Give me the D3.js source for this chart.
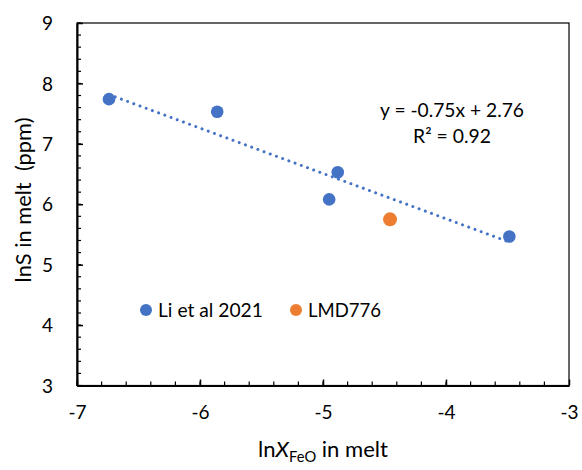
<!DOCTYPE html>
<html><head><meta charset="utf-8">
<script src="https://cdn.jsdelivr.net/npm/d3@7"></script>
<style>body{margin:0;background:#fff}svg{display:block}text{font-family:Lato,"Open Sans",sans-serif}</style>
</head><body>
<svg id="c" width="582" height="470"></svg>
<script>
const liX = [-6.74, -5.86, -4.88, -4.95, -3.485];
const liY = [7.74, 7.53, 6.53, 6.08, 5.465];
const lmdX = [-4.455];
const lmdY = [5.75];
const trendSlope = -0.75, trendIntercept = 2.76;
const xTicks = [-7, -6, -5, -4, -3];
const yTicks = [3, 4, 5, 6, 7, 8, 9];
const seriesNames = ["Li et al 2021", "LMD776"];

const svg = d3.select("#c");
const L = 77, R = 569, T = 23, B = 385.5;
const x = d3.scaleLinear().domain([-7, -3]).range([L, R]);
const y = d3.scaleLinear().domain([3, 9]).range([B, T]);
const blue = "#4472C4", orange = "#ED7D31";

function fit(sel, w) {
  const n = sel.node();
  const fs = parseFloat(sel.attr("font-size"));
  const cur = n.getComputedTextLength();
  const nf = fs * w / cur;
  sel.attr("font-size", nf);
  sel.selectAll("tspan").each(function () {
    const t = d3.select(this);
    const f = t.attr("font-size");
    if (f) t.attr("font-size", parseFloat(f) * w / cur);
  });
  return sel;
}

// frame
svg.append("rect").attr("x", L).attr("y", T).attr("width", R - L).attr("height", B - T)
  .attr("fill", "none").attr("stroke", "#000").attr("stroke-width", 1.2);

// minor ticks
const xMinor = d3.range(-7, -3.001, 0.2);
const yMinor = d3.range(3, 9.001, 0.2);
svg.append("g").selectAll("line").data(xMinor).join("line")
  .attr("x1", d => x(d)).attr("x2", d => x(d)).attr("y1", B).attr("y2", B - 4)
  .attr("stroke", "#000").attr("stroke-width", 1.2);
svg.append("g").selectAll("line").data(yMinor).join("line")
  .attr("y1", d => y(d)).attr("y2", d => y(d)).attr("x1", L).attr("x2", L + 4)
  .attr("stroke", "#000").attr("stroke-width", 1.2);

// major axes
const fmt = d => String(d);
const xAxis = d3.axisBottom(x).tickValues(xTicks).tickSizeInner(-6).tickSizeOuter(0).tickPadding(20).tickFormat(fmt);
const gx = svg.append("g").attr("transform", `translate(0,${B})`).call(xAxis);
const yAxis = d3.axisLeft(y).tickValues(yTicks).tickSizeInner(-6).tickSizeOuter(0).tickPadding(24).tickFormat(fmt);
const gy = svg.append("g").attr("transform", `translate(${L},0)`).call(yAxis);
[gx, gy].forEach(g => {
  g.select(".domain").attr("stroke", "#000").attr("stroke-width", 2);
  g.selectAll(".tick line").attr("stroke", "#000").attr("stroke-width", 1.5);
  g.selectAll(".tick text").attr("font-family", "Lato, sans-serif").attr("font-size", 19).attr("fill", "#000");
});
gy.selectAll(".tick text").attr("dy", "0.35em");

// trendline
const xmin = d3.min(liX), xmax = d3.max(liX);
svg.append("line")
  .attr("x1", x(xmin)).attr("y1", y(trendSlope * xmin + trendIntercept))
  .attr("x2", x(xmax)).attr("y2", y(trendSlope * xmax + trendIntercept))
  .attr("stroke", blue).attr("stroke-width", 3).attr("stroke-linecap", "round")
  .attr("stroke-dasharray", "0.01 6.6");

// points
svg.append("g").selectAll("circle").data(liX.map((d, i) => [d, liY[i]])).join("circle")
  .attr("cx", d => x(d[0])).attr("cy", d => y(d[1])).attr("r", 6.3).attr("fill", blue);
svg.append("g").selectAll("circle").data(lmdX.map((d, i) => [d, lmdY[i]])).join("circle")
  .attr("cx", d => x(d[0])).attr("cy", d => y(d[1])).attr("r", 7).attr("fill", orange);

// equation
fit(svg.append("text").attr("x", 452).attr("y", 117).attr("text-anchor", "middle").attr("font-size", 17).text("y = -0.75x + 2.76"), 144);
fit(svg.append("text").attr("x", 452).attr("y", 143).attr("text-anchor", "middle").attr("font-size", 17).text("R² = 0.92"), 78);

// legend
const lg = svg.append("g");
lg.append("circle").attr("cx", 146).attr("cy", 310).attr("r", 6).attr("fill", blue);
fit(lg.append("text").attr("x", 158).attr("y", 316.5).attr("font-size", 17).text(seriesNames[0]), 105);
lg.append("circle").attr("cx", 296).attr("cy", 310).attr("r", 6).attr("fill", orange);
fit(lg.append("text").attr("x", 308).attr("y", 316.5).attr("font-size", 17).text(seriesNames[1]), 73);

// axis titles
const xt = svg.append("text").attr("x", 323).attr("y", 457).attr("text-anchor", "middle").attr("font-size", 18);
xt.append("tspan").text("ln");
xt.append("tspan").attr("font-style", "italic").text("X");
xt.append("tspan").attr("font-size", 12).attr("dy", 5).text("FeO");
xt.append("tspan").attr("dy", -5).text(" in melt");
fit(xt, 130);

fit(svg.append("text").attr("transform", "translate(31,200) rotate(-90)").attr("text-anchor", "middle")
  .attr("font-size", 18).style("white-space", "pre").text("lnS in melt  (ppm)"), 165);
</script>
</body></html>
